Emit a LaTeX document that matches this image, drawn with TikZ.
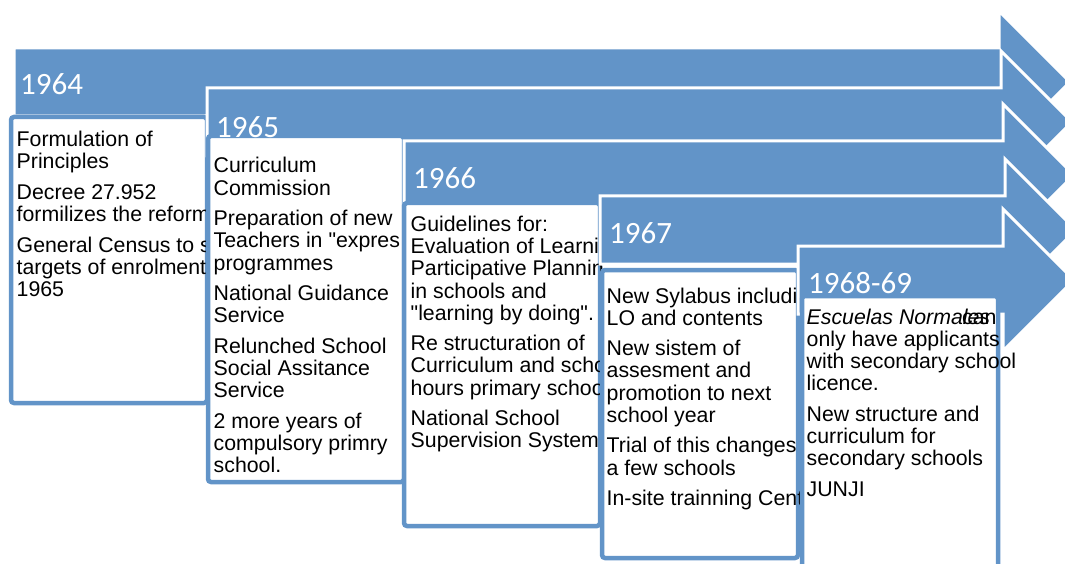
\documentclass[tikz,border=0pt]{standalone}
\usepackage{fontspec}
\setmainfont{Liberation Sans}
\newfontfamily\yearfont{Carlito}
\definecolor{tlblue}{RGB}{98,148,200}
\newcommand{\tl}[1]{\hbox{#1}}
\newcommand{\pgap}{\vskip 8.3pt}
\newcommand{\sq}{\XeTeXglyph\XeTeXcharglyph"22\relax}
\begin{document}
\begin{tikzpicture}[x=1pt,y=-1pt,
  arrowshape/.style={fill=tlblue, draw=white, line width=3pt, line join=miter},
  boxshape/.style={fill=white, draw=tlblue, line width=4.5pt, rounded corners=3pt},
  yearlbl/.style={anchor=base west, inner sep=0pt, text=white, font=\yearfont\fontsize{31}{31}\selectfont},
  bodytxt/.style={anchor=base west, inner sep=0pt, text=black, font=\fontsize{21.3}{22.2}\selectfont}]
\useasboundingbox (0,0) rectangle (1065,564);
\clip (0,0) rectangle (1065,564);

% ---- 1964
\path[arrowshape] (14,48) -- (999,48) -- (999,11) -- (1070,82) -- (999,153) -- (999,116) -- (14,116) -- cycle;
\path[boxshape] (11,117) rectangle (207,403);
\node[yearlbl] (y1) at (20,95) {1964};
\node[bodytxt] (t1) at (16.5,146.7) {\vtop{\tl{Formulation of}\tl{Principles}\pgap
  \tl{Decree 27.952}\tl{formilizes the reform}\pgap
  \tl{General Census to s}\tl{targets of enrolment}\tl{1965}}};

% ---- 1965
\path[arrowshape] (207,88) -- (1001,88) -- (1001,51) -- (1072,122) -- (1001,193) -- (1001,156) -- (207,156) -- cycle;
\path[boxshape] (208,136) rectangle (404,482);
\node[yearlbl] (y2) at (216,138) {1965};
\node[bodytxt] (t2) at (213.5,173) {\vtop{\tl{Curriculum}\tl{Commission}\pgap
  \tl{Preparation of new}\tl{Teachers in \sq expres}\tl{programmes}\pgap
  \tl{National Guidance}\tl{Service}\pgap
  \tl{Relunched School}\tl{Social Assitance}\tl{Service}\pgap
  \tl{2 more years of}\tl{compulsory primry}\tl{school.}}};

% ---- 1966
\path[arrowshape] (404,141) -- (1003,141) -- (1003,104) -- (1074,175) -- (1003,246) -- (1003,209) -- (404,209) -- cycle;
\path[boxshape] (404,203) rectangle (600,526);
\node[yearlbl] (y3) at (413,189) {1966};
\node[bodytxt] (t3) at (410.5,231.5) {\vtop{\tl{Guidelines for:}\tl{Evaluation of Learni}\tl{Participative Plannin}\tl{in schools and}\tl{\sq learning by doing\sq .}\pgap
  \tl{Re structuration of}\tl{Curriculum and scho}\tl{hours primary schoo}\pgap
  \tl{National School}\tl{Supervision System}}};

% ---- 1967
\path[arrowshape] (600,196) -- (1005,196) -- (1005,159) -- (1076,230) -- (1005,301) -- (1005,264) -- (600,264) -- cycle;
\path[boxshape] (602,270) rectangle (798,558);
\node[yearlbl] (y4) at (609,243) {1967};
\node[bodytxt] (t4) at (606.5,303) {\vtop{\tl{New Sylabus includi}\tl{LO and contents}\pgap
  \tl{New sistem of}\tl{assesment and}\tl{promotion to next}\tl{school year}\pgap
  \tl{Trial of this changes}\tl{a few schools}\pgap
  \tl{In-site trainning Cent}}};

% ---- 1968-69
\path[arrowshape] (798,246) -- (1003,246) -- (1003,209) -- (1074,280) -- (1003,351) -- (1003,314) -- (798,314) -- cycle;
\path[boxshape] (802,296) rectangle (998,620);
\node[yearlbl] (y5) at (808,293) {1968-69};
\node[bodytxt] (t5) at (806.5,324) {\vtop{\tl{\itshape Escuelas Normales}\tl{only have applicants}\tl{with secondary school}\tl{licence.}\pgap
  \tl{New structure and}\tl{curriculum for}\tl{secondary schools}\pgap
  \tl{JUNJI}}};
\node[bodytxt] (t5b) at (962,324) {can};
\end{tikzpicture}
\end{document}
